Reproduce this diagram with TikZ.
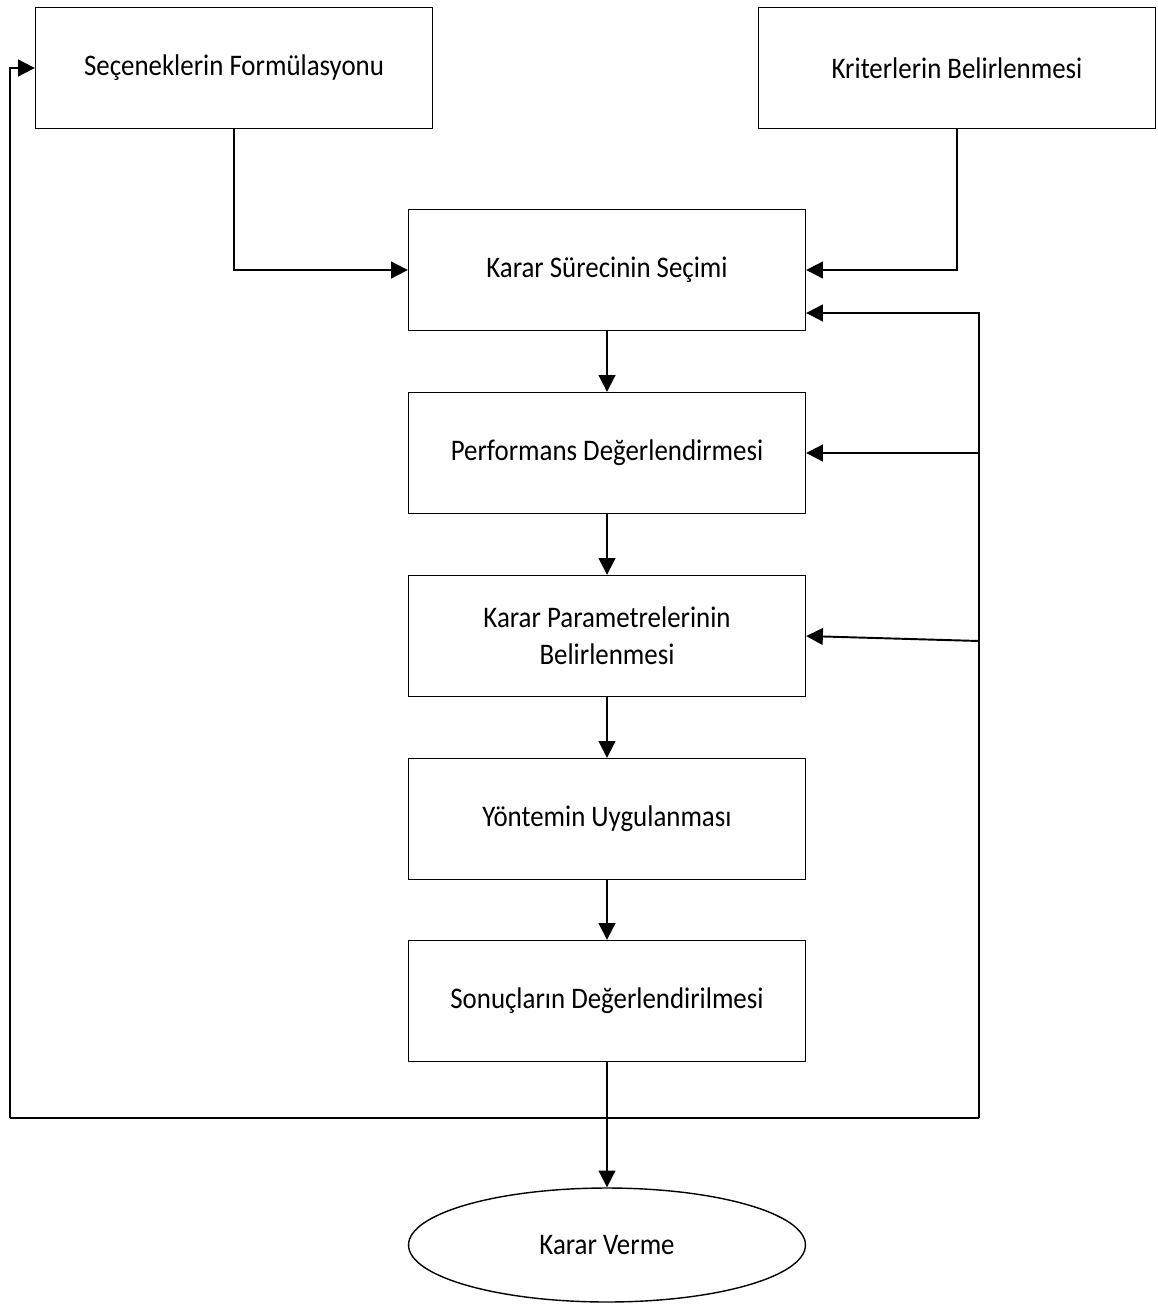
\documentclass[tikz,border=0pt]{standalone}
\usepackage{fontspec}
\setmainfont[FakeStretch=0.9]{Carlito}
\usetikzlibrary{arrows.meta,shapes.geometric}
\tikzset{
  kutu/.style={draw,line width=0.8pt,minimum width=7.94cm,minimum height=2.42cm,align=center,font=\fontsize{17}{21}\selectfont},
  son/.style={draw,ellipse,line width=0.8pt,minimum width=7.94cm,minimum height=2.28cm,font=\fontsize{17}{21}\selectfont},
  ok/.style={->,line width=1.1pt}
}
\begin{document}
\begin{tikzpicture}[>={Triangle[length=9.5pt,width=9.5pt]},x=0.02cm,y=-0.02cm]
		\useasboundingbox (0,0) rectangle (1157,1304);
		\node[kutu] (secenek) at (234,68) {Seçeneklerin Formülasyonu};
		\node[kutu] (kriter) at (957,68) {Kriterlerin Belirlenmesi};
		\node[kutu] (surec) at (607,270) {Karar Sürecinin Seçimi};
		\node[kutu] (perf) at (607,453) {Performans Değerlendirmesi};
		\node[kutu] (param) at (607,636) {Karar Parametrelerinin\\Belirlenmesi};
		\node[kutu] (yontem) at (607,819) {Yöntemin Uygulanması};
		\node[kutu] (sonuc) at (607,1001) {Sonuçların Değerlendirilmesi};
		\node[son] (karar) at (607,1245) {Karar Verme};
		\coordinate (sol) at (10,1118);
		\coordinate (sag) at (979,1118);
		% girdiler
		\draw[ok] (secenek.south) |- (surec.west);
		\draw[ok] (kriter.south) |- (surec.east);
		% ana akis
		\draw[ok] (surec) -- (perf);
		\draw[ok] (perf) -- (param);
		\draw[ok] (param) -- (yontem);
		\draw[ok] (yontem) -- (sonuc);
		\draw[ok] (sonuc) -- (karar);
		% geri besleme
		\draw[line width=1.4pt] (sol) -- (sag);
		\draw[ok] (sol) |- (secenek.west);
		\draw[ok] (sag) |- ([yshift=-0.86cm]surec.east);
		\draw[ok] (979,453) -- (perf.east);
		\draw[ok] (979,641) -- (param.east);
		\end{tikzpicture}
\end{document}
